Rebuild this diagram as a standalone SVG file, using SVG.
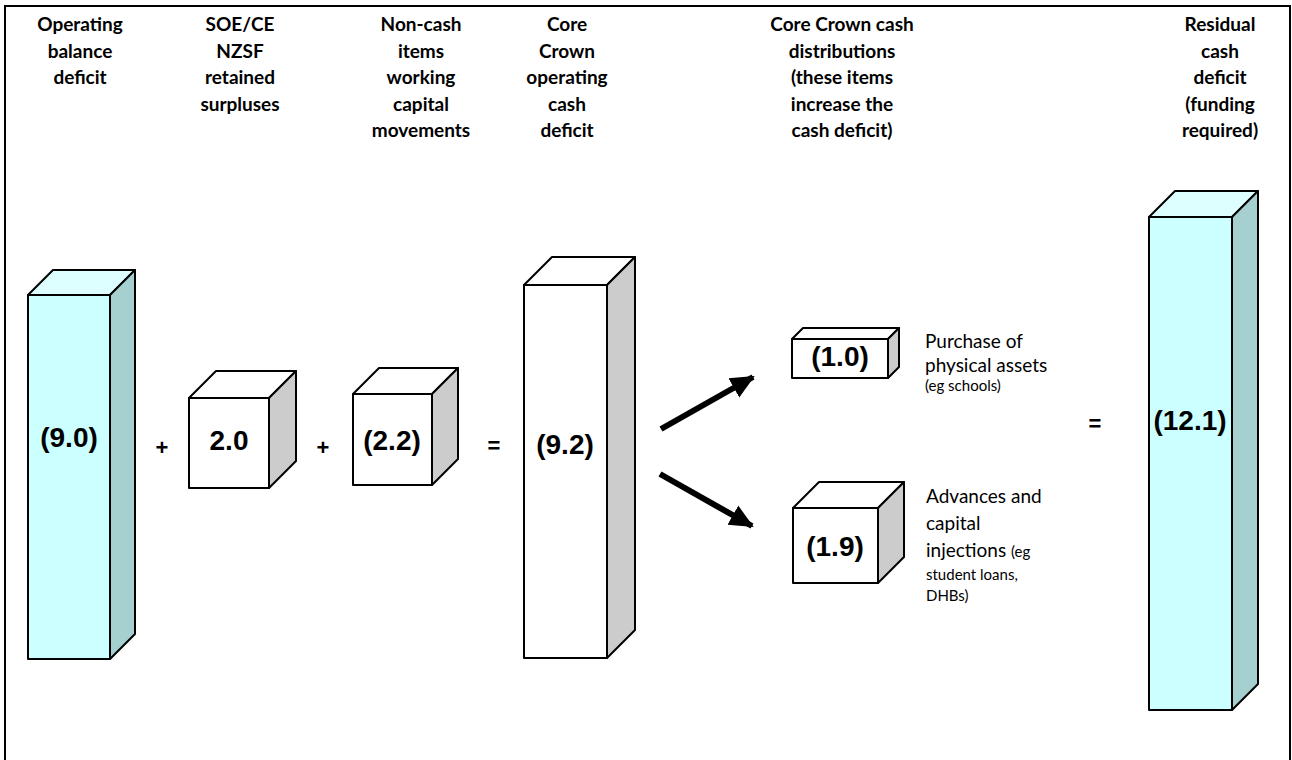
<svg xmlns="http://www.w3.org/2000/svg" width="1292" height="760" viewBox="0 0 1292 760">
<style>
.hdr{font-family:Lato,"Liberation Sans",sans-serif;font-weight:bold;font-size:19px;fill:#000;text-anchor:middle}
.num{font-family:"Liberation Sans",Arial,sans-serif;font-weight:bold;font-size:28px;fill:#000;text-anchor:middle}
.op{font-family:"Liberation Sans",Arial,sans-serif;font-weight:bold;font-size:22px;fill:#000;text-anchor:middle}
.lbl{font-family:Lato,"Liberation Sans",sans-serif;font-size:19px;fill:#000}
.sm{font-size:15px}
.edge{stroke:#000;stroke-width:2;stroke-linejoin:round}
.cf{fill:#CCFFFF}.ct{fill:#DDFFFF}.cs{fill:#A6D0D0}
.wf{fill:#FFFFFF}.wt{fill:#FFFFFF}.ws{fill:#CCCCCC}
.arrow{stroke:#000;stroke-width:6;fill:none}
</style>
<defs>
<marker id="ah" markerUnits="userSpaceOnUse" markerWidth="26" markerHeight="24" refX="22" refY="12" orient="auto">
<path d="M0,1 L24,12 L0,23 Z" fill="#000"/>
</marker>
</defs>
<rect x="5" y="6" width="1285" height="800" fill="#fff" stroke="#000" stroke-width="2"/>

<g id="headers">
<text class="hdr"><tspan x="80" y="31">Operating</tspan><tspan x="80" y="57.5">balance</tspan><tspan x="80" y="84">deficit</tspan></text>
<text class="hdr"><tspan x="240" y="31">SOE/CE</tspan><tspan x="240" y="57.5">NZSF</tspan><tspan x="240" y="84">retained</tspan><tspan x="240" y="110.5">surpluses</tspan></text>
<text class="hdr"><tspan x="421" y="31">Non-cash</tspan><tspan x="421" y="57.5">items</tspan><tspan x="421" y="84">working</tspan><tspan x="421" y="110.5">capital</tspan><tspan x="421" y="137">movements</tspan></text>
<text class="hdr"><tspan x="567" y="31">Core</tspan><tspan x="567" y="57.5">Crown</tspan><tspan x="567" y="84">operating</tspan><tspan x="567" y="110.5">cash</tspan><tspan x="567" y="137">deficit</tspan></text>
<text class="hdr"><tspan x="842" y="31">Core Crown cash</tspan><tspan x="842" y="57.5">distributions</tspan><tspan x="842" y="84">(these items</tspan><tspan x="842" y="110.5">increase the</tspan><tspan x="842" y="137">cash deficit)</tspan></text>
<text class="hdr"><tspan x="1220" y="31">Residual</tspan><tspan x="1220" y="57.5">cash</tspan><tspan x="1220" y="84">deficit</tspan><tspan x="1220" y="110.5">(funding</tspan><tspan x="1220" y="137">required)</tspan></text>
</g>

<g id="box-operating-balance">
<rect class="cf edge" x="28" y="295" width="82" height="364"/>
<polygon class="ct edge" points="28,295 53,270 135,270 110,295"/>
<polygon class="cs edge" points="110,295 135,270 135,634 110,659"/>
<text class="num" x="69" y="447">(9.0)</text>
</g>

<g id="box-soe">
<rect class="wf edge" x="189" y="398" width="80" height="90"/>
<polygon class="wt edge" points="189,398 216,371 296,371 269,398"/>
<polygon class="ws edge" points="269,398 296,371 296,461 269,488"/>
<text class="num" x="229" y="450">2.0</text>
</g>

<g id="box-noncash">
<rect class="wf edge" x="353" y="394" width="79" height="91"/>
<polygon class="wt edge" points="353,394 379,368 458,368 432,394"/>
<polygon class="ws edge" points="432,394 458,368 458,459 432,485"/>
<text class="num" x="392" y="450">(2.2)</text>
</g>

<g id="box-core-operating">
<rect class="wf edge" x="524" y="285" width="83" height="373"/>
<polygon class="wt edge" points="524,285 552,257 635,257 607,285"/>
<polygon class="ws edge" points="607,285 635,257 635,630 607,658"/>
<text class="num" x="565" y="454">(9.2)</text>
</g>

<g id="box-purchase">
<rect class="wf edge" x="792" y="339" width="96" height="39"/>
<polygon class="wt edge" points="792,339 803,328 899,328 888,339"/>
<polygon class="ws edge" points="888,339 899,328 899,367 888,378"/>
<text class="num" x="840" y="366">(1.0)</text>
<text class="lbl"><tspan x="925" y="348">Purchase of</tspan><tspan x="925" y="372">physical assets</tspan><tspan x="925" y="391" class="sm">(eg schools)</tspan></text>
</g>

<g id="box-advances">
<rect class="wf edge" x="793" y="508" width="85" height="75"/>
<polygon class="wt edge" points="793,508 819,482 904,482 878,508"/>
<polygon class="ws edge" points="878,508 904,482 904,557 878,583"/>
<text class="num" x="835" y="556">(1.9)</text>
<text class="lbl"><tspan x="926" y="503">Advances and</tspan><tspan x="926" y="530">capital</tspan><tspan x="926" y="557">injections <tspan class="sm">(eg</tspan></tspan><tspan x="926" y="580" class="sm">student loans,</tspan><tspan x="926" y="601" class="sm">DHBs)</tspan></text>
</g>

<g id="box-residual">
<rect class="cf edge" x="1149" y="217" width="83" height="493"/>
<polygon class="ct edge" points="1149,217 1175,191 1258,191 1232,217"/>
<polygon class="cs edge" points="1232,217 1258,191 1258,684 1232,710"/>
<text class="num" x="1190" y="430">(12.1)</text>
</g>

<g id="operators">
<text class="op" x="162" y="455">+</text>
<text class="op" x="323" y="455">+</text>
<text class="op" x="494" y="453">=</text>
<text class="op" x="1095" y="431">=</text>
</g>

<g id="connectors">
<line class="arrow" x1="661" y1="429" x2="753" y2="377" marker-end="url(#ah)"/>
<line class="arrow" x1="660" y1="474" x2="752" y2="526" marker-end="url(#ah)"/>
</g>
</svg>
